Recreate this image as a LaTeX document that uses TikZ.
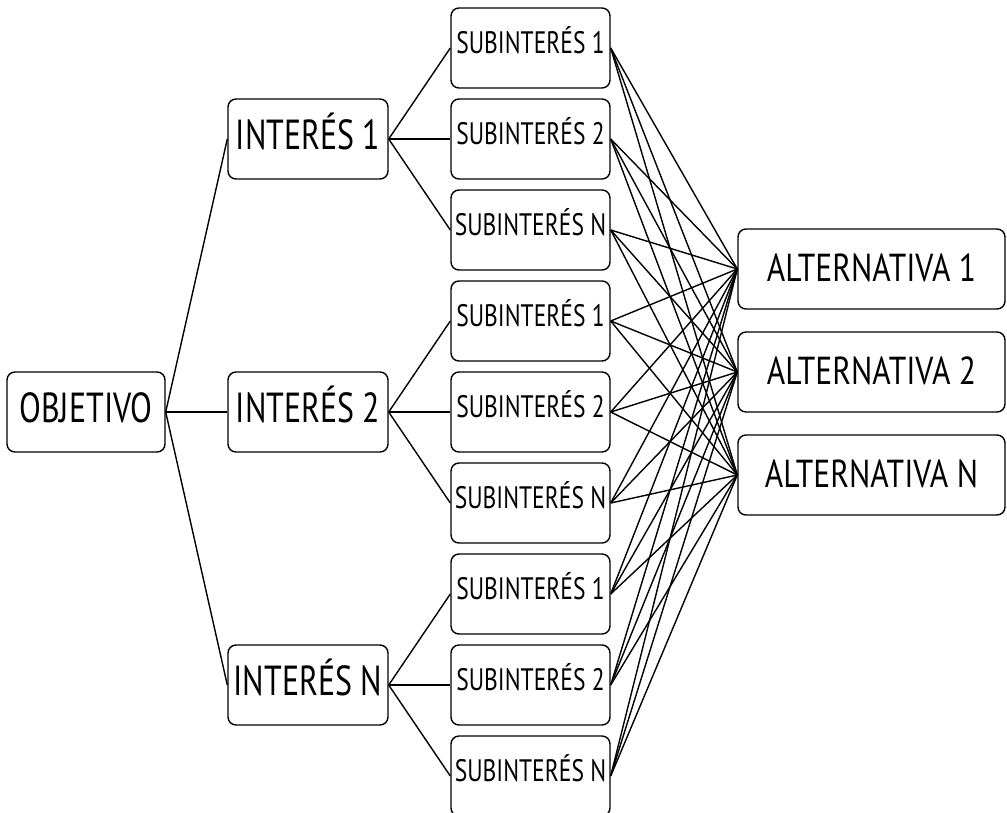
\documentclass[tikz,border=0pt]{standalone}
\usepackage{fontspec}
\newfontfamily\boxfont[FakeStretch=0.76]{PT Sans}
\newfontfamily\altfont[FakeStretch=0.81]{PT Sans}
\usetikzlibrary{calc}

\tikzset{
  box/.style={draw, rounded corners=8pt, line width=1.4pt, inner sep=0pt, minimum height=80pt},
  bigbox/.style={box, minimum width=160pt, font={\boxfont\fontsize{42}{46}\selectfont}, text height=29pt, text depth=8.6pt},
  subbox/.style={box, minimum width=159pt, font={\boxfont\fontsize{31}{35}\selectfont}, text height=22pt, text depth=11.3pt},
  altbox/.style={box, minimum width=267pt, font={\altfont\fontsize{39}{43}\selectfont}, text height=27pt, text depth=2.7pt},
  link/.style={line width=1.4pt}
}

\begin{document}
\begin{tikzpicture}[x=1pt, y=-1pt]
            \useasboundingbox (0,0) rectangle (1007,812);

            % Objective and interests
            \node[bigbox, minimum width=158pt] (obj) at (86,412) {OBJETIVO};
            \node[bigbox] (int1) at (308,139) {INTERÉS 1};
            \node[bigbox] (int2) at (308,412) {INTERÉS 2};
            \node[bigbox] (intN) at (308,685) {INTERÉS N};

            % Sub-interests, three per interest
            \foreach \g/\y in {1/139, 2/412, N/685}
                \foreach \s/\dy in {1/-91, 2/0, N/91}
                    \node[subbox] (s\g\s) at (530.5,\y+\dy) {SUBINTERÉS \s};

            % Alternatives
            \node[altbox] (alt1) at (871.5,269) {ALTERNATIVA 1};
            \node[altbox] (alt2) at (871.5,372) {ALTERNATIVA 2};
            \node[altbox] (altN) at (871.5,475) {ALTERNATIVA N};

            % Connectors
            \foreach \g in {1,2,N} {
                \draw[link] (obj.east) -- (int\g.west);
                \foreach \s in {1,2,N} {
                    \draw[link] (int\g.east) -- (s\g\s.west);
                    \foreach \a in {1,2,N}
                        \draw[link] (s\g\s.east) -- (alt\a.west);
                }
            }
        \end{tikzpicture}
\end{document}
